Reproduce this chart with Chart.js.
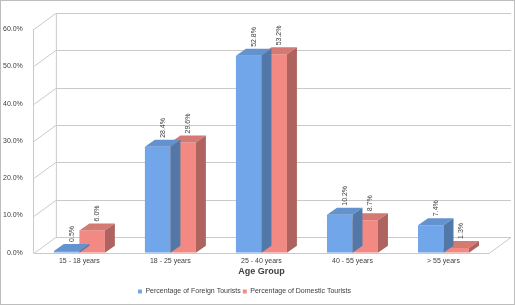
<!DOCTYPE html>
<html>
<head>
<meta charset="utf-8">
<script src="https://cdn.jsdelivr.net/npm/chart.js@4.4.0/dist/chart.umd.min.js"></script>
<style>
  html, body { margin: 0; padding: 0; background: #ffffff; }
  #wrap { width: 515px; height: 305px; }
</style>
</head>
<body>
<div id="wrap"><canvas id="myChart" width="515" height="305"></canvas></div>
<script>
// datos
var ageGroups = ['15 - 18 years', '18 - 25 years', '25 - 40 years', '40 - 55 years', '> 55 years'];
var foreignPct = [0.5, 28.4, 52.8, 10.2, 7.4];
var domesticPct = [6.0, 29.6, 53.2, 8.7, 1.3];
var yTicks = [0, 10, 20, 30, 40, 50, 60];

var wallDx = 22, wallDy = -16;   // profundidad de las paredes
var barDx = 10, barDy = -7;      // profundidad de las barras

function shade(hex, k) {
    var n = parseInt(hex.slice(1), 16);
    var r = Math.round(((n >> 16) & 255) * k), g = Math.round(((n >> 8) & 255) * k), b = Math.round((n & 255) * k);
    return 'rgb(' + Math.min(r, 255) + ',' + Math.min(g, 255) + ',' + Math.min(b, 255) + ')';
}

// paredes, suelo y lineas de la cuadricula
var wallPlugin = {
    id: 'wall3d',
    beforeDatasetsDraw: function (chart) {
        var ctx = chart.ctx, a = chart.chartArea, y = chart.scales.y;
        ctx.save();
        ctx.strokeStyle = '#c9c9c9';
        ctx.lineWidth = 1;
        yTicks.forEach(function (t) {
            var py = Math.round(y.getPixelForValue(t)) + 0.5;
            ctx.beginPath();
            ctx.moveTo(a.left, py);
            ctx.lineTo(a.left + wallDx, py + wallDy);
            ctx.lineTo(a.right + wallDx, py + wallDy);
            if (t === 0) {
                ctx.lineTo(a.right, py);
                ctx.lineTo(a.left, py);
            }
            ctx.stroke();
        });
        ctx.beginPath();
        ctx.moveTo(a.left + wallDx + 0.5, a.top + wallDy);
        ctx.lineTo(a.left + wallDx + 0.5, a.bottom + wallDy);
        ctx.stroke();
        ctx.restore();
    },
    afterDatasetDraw: function (chart, args) {
        var ctx = chart.ctx;
        var ds = chart.data.datasets[args.index];
        var base = ds.backgroundColor;
        ctx.save();
        args.meta.data.forEach(function (bar) {
            var p = bar.getProps(['x', 'y', 'base', 'width'], true);
            var l = p.x - p.width / 2, r = p.x + p.width / 2;
            // cara superior
            ctx.fillStyle = shade(base, 0.88);
            ctx.beginPath();
            ctx.moveTo(l, p.y);
            ctx.lineTo(l + barDx, p.y + barDy);
            ctx.lineTo(r + barDx, p.y + barDy);
            ctx.lineTo(r, p.y);
            ctx.closePath();
            ctx.fill();
            // cara lateral
            ctx.fillStyle = shade(base, 0.72);
            ctx.beginPath();
            ctx.moveTo(r, p.y);
            ctx.lineTo(r + barDx, p.y + barDy);
            ctx.lineTo(r + barDx, p.base + barDy);
            ctx.lineTo(r, p.base);
            ctx.closePath();
            ctx.fill();
        });
        ctx.restore();
    },
    afterDatasetsDraw: function (chart) {
        var ctx = chart.ctx;
        ctx.save();
        ctx.font = '7px "Liberation Sans"';
        ctx.fillStyle = '#404040';
        ctx.textAlign = 'left';
        ctx.textBaseline = 'middle';
        chart.data.datasets.forEach(function (ds, i) {
            chart.getDatasetMeta(i).data.forEach(function (bar, j) {
                var p = bar.getProps(['x', 'y'], true);
                ctx.save();
                ctx.translate(p.x + barDx / 2, p.y + barDy - 2);
                ctx.rotate(-Math.PI / 2);
                ctx.fillText(ds.data[j].toFixed(1) + '%', 0, 0);
                ctx.restore();
            });
        });
        ctx.restore();
    },
    afterDraw: function (chart) {
        var ctx = chart.ctx;
        ctx.save();
        ctx.strokeStyle = '#bdbdbd';
        ctx.strokeRect(0.5, 0.5, chart.width - 1, chart.height - 1);
        ctx.restore();
    }
};

var ctx = document.getElementById('myChart').getContext('2d');
var myChart = new Chart(ctx, {
    type: 'bar',
    data: {
        labels: ageGroups,
        datasets: [{
            label: 'Percentage of Foreign Tourists',
            data: foreignPct,
            backgroundColor: '#72a6ea',
            borderWidth: 0
        }, {
            label: 'Percentage of Domestic Tourists',
            data: domesticPct,
            backgroundColor: '#f28983',
            borderWidth: 0
        }]
    },
    options: {
        responsive: false,
        animation: false,
        layout: { padding: { left: 0, right: 26, top: 29, bottom: 0 } },
        categoryPercentage: 0.56,
        barPercentage: 1.0,
        scales: {
            x: {
                grid: { display: false, drawTicks: false },
                border: { display: false },
                ticks: { color: '#404040', font: { family: 'Liberation Sans', size: 7 }, padding: 4 },
                title: {
                    display: true,
                    text: 'Age Group',
                    color: '#404040',
                    font: { family: 'Liberation Sans', size: 9, weight: 'bold' },
                    padding: { top: -3, bottom: 9 }
                }
            },
            y: {
                min: 0,
                max: 60,
                grid: { display: false },
                border: { display: true, color: '#c9c9c9' },
                afterBuildTicks: function (axis) {
                    axis.ticks = yTicks.map(function (v) { return { value: v }; });
                },
                ticks: {
                    color: '#404040',
                    font: { family: 'Liberation Sans', size: 7 },
                    padding: 3,
                    callback: function (v) { return v.toFixed(1) + '%'; }
                }
            }
        },
        plugins: {
            legend: {
                position: 'bottom',
                labels: {
                    color: '#404040',
                    font: { family: 'Liberation Sans', size: 7 },
                    boxWidth: 4,
                    boxHeight: 4,
                    padding: 2
                }
            },
            tooltip: { enabled: false }
        }
    },
    plugins: [wallPlugin]
});
</script>
</body>
</html>
